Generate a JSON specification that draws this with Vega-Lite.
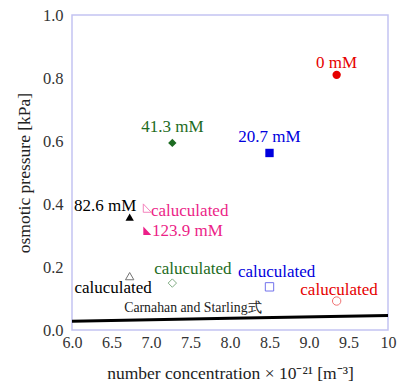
{
  "$schema": "https://vega.github.io/schema/vega-lite/v6.json",
  "width": 316,
  "height": 315,
  "autosize": "none",
  "padding": {"left": 72, "top": 15, "right": 12, "bottom": 58},
  "background": "white",
  "config": {
    "view": {"stroke": "#c4c4f2", "strokeWidth": 1.5},
    "font": "Liberation Serif",
    "text": {"font": "Liberation Serif"},
    "axis": {"labelFont": "Liberation Serif", "titleFont": "Liberation Serif", "labelColor": "#333", "titleColor": "#222", "grid": false, "domain": false, "ticks": false, "labelFontSize": 16.5, "titleFontSize": 17.5, "titleFontWeight": "normal", "labelOverlap": false, "labelFlush": false, "labelBound": false}
  },
  "datasets": {
    "points": [
      {"series": "0 mM", "kind": "measured", "n": 9.35, "p": 0.81},
      {"series": "20.7 mM", "kind": "measured", "n": 8.5, "p": 0.562},
      {"series": "41.3 mM", "kind": "measured", "n": 7.27, "p": 0.594},
      {"series": "82.6 mM", "kind": "measured", "n": 6.73, "p": 0.358},
      {"series": "123.9 mM", "kind": "measured", "n": 6.95, "p": 0.315},
      {"series": "0 mM", "kind": "calculated", "n": 9.35, "p": 0.092},
      {"series": "20.7 mM", "kind": "calculated", "n": 8.5, "p": 0.137},
      {"series": "41.3 mM", "kind": "calculated", "n": 7.27, "p": 0.149},
      {"series": "82.6 mM", "kind": "calculated", "n": 6.73, "p": 0.171},
      {"series": "123.9 mM", "kind": "calculated", "n": 6.95, "p": 0.387}
    ],
    "line": [
      {"n": 6.0, "p": 0.028},
      {"n": 8.0, "p": 0.037},
      {"n": 10.0, "p": 0.046}
    ],
    "labels": [
      {"series": "0 mM", "text": "0 mM", "n": 9.35, "p": 0.848},
      {"series": "20.7 mM", "text": "20.7 mM", "n": 8.5, "p": 0.613},
      {"series": "41.3 mM", "text": "41.3 mM", "n": 7.27, "p": 0.644},
      {"series": "82.6 mM", "text": "82.6 mM", "n": 6.42, "p": 0.394},
      {"series": "123.9 mM", "text": "123.9 mM", "n": 7.46, "p": 0.314},
      {"series": "123.9 mM", "text": "caluculated", "n": 7.49, "p": 0.378},
      {"series": "82.6 mM", "text": "caluculated", "n": 6.52, "p": 0.133},
      {"series": "41.3 mM", "text": "caluculated", "n": 7.53, "p": 0.194},
      {"series": "20.7 mM", "text": "caluculated", "n": 8.59, "p": 0.184},
      {"series": "0 mM", "text": "caluculated", "n": 9.38, "p": 0.127}
    ]
  },
  "encoding": {
    "x": {"field": "n", "type": "quantitative", "scale": {"domain": [6, 10], "nice": false}, "axis": {"values": [6, 6.5, 7, 7.5, 8, 8.5, 9, 9.5, 10], "tickCount": 9, "format": ".1f", "labelExpr": "datum.value == 10 ? '10' : datum.label", "labelOverlap": false, "labelSeparation": -12, "labelFlush": false, "labelFontSize": 16, "labelPadding": 4, "title": "number concentration \u00d7 10\u207b\u00b2\u00b9 [m\u207b\u00b3]", "titlePadding": 14}},
    "y": {"field": "p", "type": "quantitative", "scale": {"domain": [0, 1], "nice": false}, "axis": {"values": [0, 0.2, 0.4, 0.6, 0.8, 1.0], "format": ".1f", "labelFlush": false, "labelPadding": 9, "title": "osmotic pressure [kPa]", "titlePadding": 9}}
  },
  "layer": [
    {
      "data": {"name": "line"},
      "mark": {"type": "line", "color": "black", "strokeWidth": 3, "clip": true}
    },
    {
      "data": {"values": [{"text": "Carnahan and Starling\u5f0f", "n": 7.53, "p": 0.07}]},
      "mark": {"type": "text", "fontSize": 13.8, "color": "#222"},
      "encoding": {
        "text": {"field": "text"}
      }
    },
    {
      "data": {"name": "points"},
      "transform": [{"filter": "datum.kind == 'calculated'"}],
      "mark": {"type": "point", "filled": false, "strokeWidth": 1, "opacity": 0.55, "size": 70},
      "encoding": {
        "color": {"field": "series", "type": "nominal", "legend": null, "scale": {"domain": ["0 mM", "20.7 mM", "41.3 mM", "82.6 mM", "123.9 mM"], "range": ["#e60000", "#0000dd", "#1d6b22", "#000000", "#ec1f88"]}},
        "shape": {"field": "series", "type": "nominal", "legend": null, "scale": {"domain": ["0 mM", "20.7 mM", "41.3 mM", "82.6 mM", "123.9 mM"], "range": ["circle", "square", "diamond", "triangle-up", "M -0.9 -1 L -0.9 1 L 1 1 Z"]}}
      }
    },
    {
      "data": {"name": "points"},
      "transform": [{"filter": "datum.kind == 'measured'"}],
      "mark": {"type": "point", "filled": true, "opacity": 1, "size": 70},
      "encoding": {
        "color": {"field": "series", "type": "nominal", "legend": null},
        "shape": {"field": "series", "type": "nominal", "legend": null}
      }
    },
    {
      "data": {"name": "labels"},
      "mark": {"type": "text", "fontSize": 17},
      "encoding": {
        "text": {"field": "text"},
        "color": {"field": "series", "type": "nominal", "legend": null}
      }
    }
  ]
}
